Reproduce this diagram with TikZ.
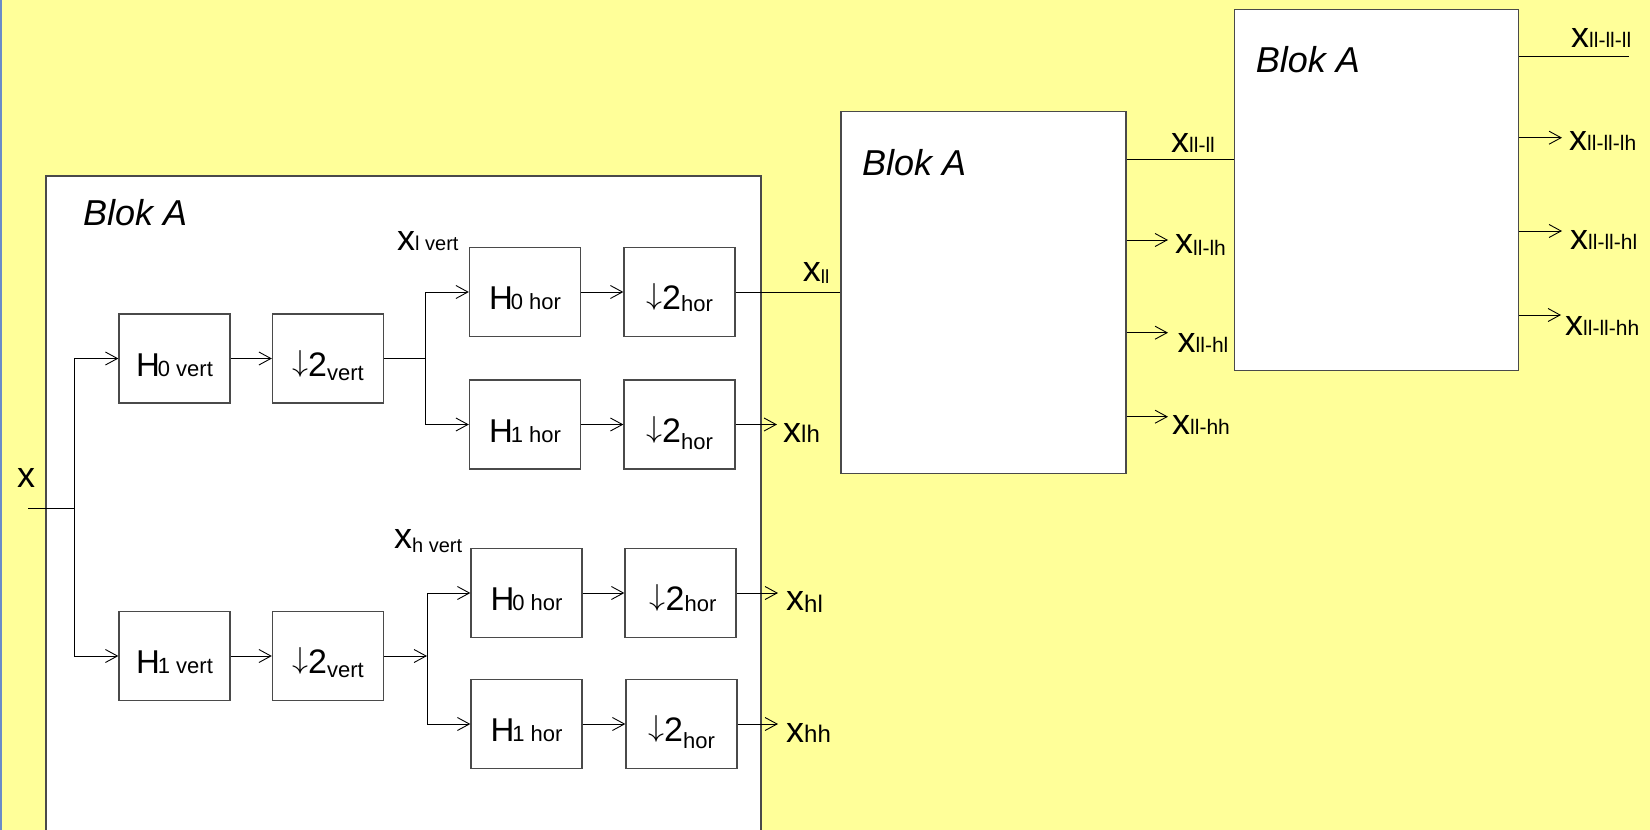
\documentclass[tikz,border=0pt]{standalone}
\usepackage{graphicx}
\usepackage{fontspec}
\setmainfont{Liberation Sans}
\usetikzlibrary{arrows.meta}
\definecolor{paper}{HTML}{FFFF99}
\definecolor{edge}{HTML}{4A4A4A}
\definecolor{rim}{HTML}{6A8CC8}

% font size helper, decimator symbol and signal labels (big x, smaller index)
\newcommand\fsz[2]{{\fontsize{#1}{#1}\selectfont #2}}
\newcommand\dn{\raisebox{-1pt}{\resizebox{16pt}{27pt}{\raisebox{\depth}{$\downarrow$}}}}
\newcommand\xsig[3][0]{\fsz{36}{x}\raisebox{-#1pt}{\fsz{#2}{#3}}}

\tikzset{
  wire/.style={line width=0.9pt, black},
  arr/.style={-{Straight Barb[length=12pt,width=13pt]}},
  blk/.style={draw=edge, line width=1.3pt, fill=white, inner sep=0pt,
              minimum width=111pt, minimum height=89pt,
              text height=35pt, text depth=0pt},
  frame/.style={draw=edge, line width=1.3pt, fill=white, inner sep=0pt},
  txt/.style={inner sep=0pt, anchor=base west},
  title/.style={txt, font=\fontsize{36}{36}\selectfont\itshape},
}

\begin{document}
\begin{tikzpicture}[x=1pt,y=-1pt]
\useasboundingbox (0,0) rectangle (1650,830);
\clip (0,0) rectangle (1650,830);
\fill[paper] (0,0) rectangle (1650,830);
\draw[rim, line width=2pt] (1,0) -- (1,830);

% the three "Blok A" frames
\node[frame, minimum width=715pt, minimum height=680pt] (bigA) at (403.5,516) {};
\node[frame, minimum width=285pt, minimum height=362pt] (midA) at (983.5,292.3) {};
\node[frame, minimum width=284pt, minimum height=361pt] (rgtA) at (1376.8,190) {};

\node[title] (t1) at (83,225) {Blok A};
\node[title] (t2) at (862,175) {Blok A};
\node[title] (t3) at (1255.6,72.7) {Blok A};

% vertical stage
\node[blk] (hv0) at (174.5,358.5) {\fsz{33}{H}\kern-2pt\fsz{22}{0 vert}};
\node[blk] (dv0) at (328,358.5) {\dn\fsz{34}{2}\raisebox{-4pt}{\fsz{22}{vert}}};
\node[blk] (hv1) at (174.5,656) {\fsz{33}{H}\kern-2pt\fsz{22}{1 vert}};
\node[blk] (dv1) at (328,656) {\dn\fsz{34}{2}\raisebox{-4pt}{\fsz{22}{vert}}};

% horizontal stage, low branch
\node[blk] (hh00) at (525,292) {\fsz{33}{H}\kern-2pt\fsz{22}{0 hor}};
\node[blk] (dh00) at (679.5,292) {\dn\fsz{34}{2}\raisebox{-2pt}{\fsz{22}{hor}}};
\node[blk] (hh01) at (525,424.5) {\fsz{33}{H}\kern-2pt\fsz{22}{1 hor}};
\node[blk] (dh01) at (679.5,424.5) {\dn\fsz{34}{2}\raisebox{-7pt}{\fsz{22}{hor}}};

% horizontal stage, high branch
\node[blk] (hh10) at (526.5,593) {\fsz{33}{H}\kern-2pt\fsz{22}{0 hor}};
\node[blk] (dh10) at (680.5,593) {\kern5pt\dn\fsz{34}{2}\raisebox{-1pt}{\fsz{22}{hor}}};
\node[blk] (hh11) at (526.5,724) {\fsz{33}{H}\kern-2pt\fsz{22}{1 hor}};
\node[blk] (dh11) at (681.5,724) {\dn\fsz{34}{2}\raisebox{-7pt}{\fsz{22}{hor}}};

% input and vertical split
\coordinate (xin) at (28,508);
\coordinate (j0) at (74,508);
\node[txt] (lx) at (17,487) {\fsz{36}{x}};
\draw[wire] (xin) -- (j0);
\draw[wire,arr] (j0) |- (hv0.west);
\draw[wire,arr] (j0) |- (hv1.west);
\draw[wire,arr] (hv0.east) -- (dv0.west);
\draw[wire,arr] (hv1.east) -- (dv1.west);

% horizontal split
\coordinate (j1) at (425.5,358.5);
\coordinate (j2) at (427,656);
\draw[wire] (dv0.east) -- (j1);
\draw[wire,arr] (j1) |- (hh00.west);
\draw[wire,arr] (j1) |- (hh01.west);
\draw[wire,arr] (dv1.east) -- (j2);
\draw[wire,arr] (j2) |- (hh10.west);
\draw[wire,arr] (j2) |- (hh11.west);
\node[txt] (llv) at (397,250) {\xsig{20}{l vert}};
\node[txt] (lhv) at (394,548) {\xsig[4]{20}{h vert}};

\draw[wire,arr] (hh00.east) -- (dh00.west);
\draw[wire,arr] (hh01.east) -- (dh01.west);
\draw[wire,arr] (hh10.east) -- (dh10.west);
\draw[wire,arr] (hh11.east) -- (dh11.west);

% first-level outputs
\coordinate (olh) at (777,424.5);
\coordinate (ohl) at (778,593);
\coordinate (ohh) at (778,724);
\draw[wire] (dh00.east) -- (dh00.east -| midA.west);
\draw[wire,arr] (dh01.east) -- (olh);
\draw[wire,arr] (dh10.east) -- (ohl);
\draw[wire,arr] (dh11.east) -- (ohh);
\node[txt] (lll) at (802.7,281) {\xsig[2]{19}{ll}};
\node[txt] (llh) at (783,442) {\xsig{24}{lh}};
\node[txt] (lhl) at (786,610) {\xsig[2]{24}{hl}};
\node[txt] (lhh) at (786,742) {\xsig{24}{hh}};

% second-level outputs
\coordinate (m1) at (1168,240);
\coordinate (m2) at (1168,332.7);
\coordinate (m3) at (1168,416.7);
\draw[wire] (midA.east |- 0,159) -- (rgtA.west |- 0,159);
\draw[wire,arr] (midA.east |- m1) -- (m1);
\draw[wire,arr] (midA.east |- m2) -- (m2);
\draw[wire,arr] (midA.east |- m3) -- (m3);
\node[txt] (lllll) at (1171,152) {\xsig{21}{ll-ll}};
\node[txt] (llllh) at (1175,253) {\xsig[2]{21}{ll-lh}};
\node[txt] (lllhl) at (1177.5,352) {\xsig{21}{ll-hl}};
\node[txt] (lllhh) at (1172,434) {\xsig{21}{ll-hh}};

% third-level outputs
\coordinate (r0) at (1629,56.7);
\coordinate (r1) at (1562,137.7);
\coordinate (r2) at (1562,231);
\coordinate (r3) at (1561,315);
\draw[wire] (rgtA.east |- r0) -- (r0);
\draw[wire,arr] (rgtA.east |- r1) -- (r1);
\draw[wire,arr] (rgtA.east |- r2) -- (r2);
\draw[wire,arr] (rgtA.east |- r3) -- (r3);
\node[txt] (r0l) at (1571,47) {\xsig{21}{ll-ll-ll}};
\node[txt] (r1l) at (1569,150) {\xsig{21}{ll-ll-lh}};
\node[txt] (r2l) at (1570,249) {\xsig{21}{ll-ll-hl}};
\node[txt] (r3l) at (1565,335) {\xsig{21}{ll-ll-hh}};
\end{tikzpicture}
\end{document}
